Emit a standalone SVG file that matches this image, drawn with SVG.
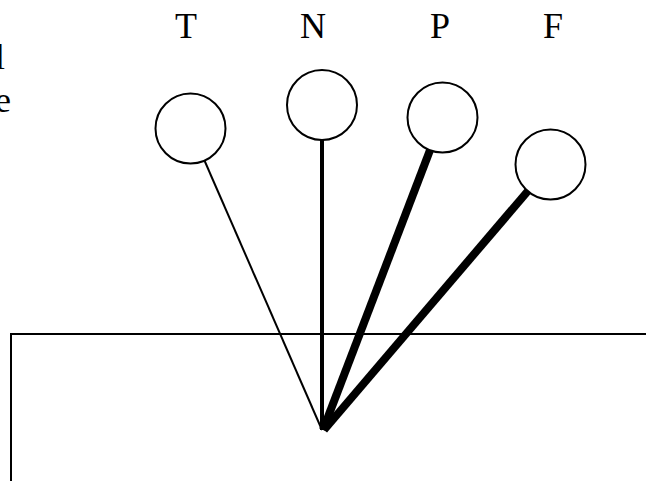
<svg xmlns="http://www.w3.org/2000/svg" width="646" height="481" viewBox="0 0 646 481">
<style>
.lbl{font-family:"Liberation Serif","Times New Roman",serif;font-size:36px;fill:#000}
.node circle{fill:#fff;stroke:#000;stroke-width:2}
.edge{stroke:#000;fill:none;stroke-linecap:butt}
</style>
<rect width="646" height="481" fill="#fff"/>
<g id="frame">
<polyline points="11,481 11,334 646,334" fill="none" stroke="#000" stroke-width="2"/>
</g>
<g id="side-text">
<text class="lbl" x="5" y="69" text-anchor="end">l</text>
<text class="lbl" x="11" y="112" text-anchor="end">e</text>
</g>
<g id="connectors">
<line class="edge" x1="322" y1="430" x2="190.5" y2="128.5" stroke-width="2"/>
<line class="edge" x1="322" y1="430" x2="322" y2="105" stroke-width="4"/>
<line class="edge" x1="323" y1="430" x2="442.5" y2="117.5" stroke-width="8"/>
<line class="edge" x1="324" y1="430" x2="550.5" y2="164.5" stroke-width="8"/>
</g>
<g id="node-T" class="node">
<circle cx="190.5" cy="128.5" r="35"/>
<text class="lbl" x="186" y="38" text-anchor="middle">T</text>
</g>
<g id="node-N" class="node">
<circle cx="322" cy="105" r="35"/>
<text class="lbl" x="313" y="38" text-anchor="middle">N</text>
</g>
<g id="node-P" class="node">
<circle cx="442.5" cy="117.5" r="35"/>
<text class="lbl" x="440" y="38" text-anchor="middle">P</text>
</g>
<g id="node-F" class="node">
<circle cx="550.5" cy="164.5" r="35"/>
<text class="lbl" x="553" y="38" text-anchor="middle">F</text>
</g>
</svg>
